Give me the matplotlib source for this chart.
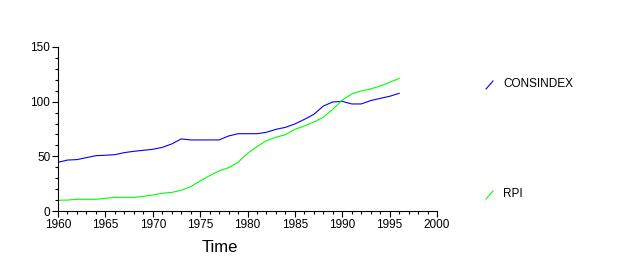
import matplotlib
matplotlib.use("Agg")
import matplotlib.pyplot as plt
from matplotlib.lines import Line2D
from matplotlib.ticker import MultipleLocator

years = list(range(1960, 1997))
consindex = [44.5, 46.6, 47.0, 48.8, 50.6, 51.0, 51.5, 53.4, 54.6, 55.5,
             56.4, 58.2, 61.3, 65.9, 65.0, 65.0, 65.0, 65.0, 68.6, 70.7,
             70.7, 70.7, 72.0, 74.7, 76.5, 79.6, 83.8, 88.4, 96.0, 99.7,
             100.3, 97.9, 97.9, 101.0, 103.0, 104.9, 107.6]
rpi = [9.8, 10.0, 10.7, 10.7, 10.7, 11.6, 12.5, 12.5, 12.5, 13.4,
       14.6, 16.2, 17.0, 18.9, 22.3, 27.4, 32.3, 36.6, 39.6, 44.5,
       52.7, 58.8, 64.3, 67.4, 69.8, 74.7, 77.7, 81.4, 85.7, 93.0,
       101.5, 107.0, 109.8, 111.6, 114.3, 117.7, 121.3]
series_names = ["CONSINDEX", "RPI"]
series_colors = ["#0000ff", "#00ff00"]

plt.rcParams['font.family'] = ['Liberation Sans', 'DejaVu Sans']

W, H = 638, 264
fig = plt.figure(figsize=(W / 100, H / 100), dpi=100)
ax = fig.add_axes([58 / W, 1 - 211 / H, (437 - 58) / W, (211 - 47) / H])

ax.plot(years, consindex, color=series_colors[0], lw=0.8)
ax.plot(years, rpi, color=series_colors[1], lw=0.8)

ax.set_xlim(1960, 2000)
ax.set_ylim(0, 150)
ax.xaxis.set_major_locator(MultipleLocator(5))
ax.xaxis.set_minor_locator(MultipleLocator(1))
ax.yaxis.set_major_locator(MultipleLocator(50))
ax.yaxis.set_minor_locator(MultipleLocator(10))
ax.tick_params(which='major', length=4, width=0.8, labelsize=8.5, pad=1.5, color='black')
ax.tick_params(which='minor', length=2.5, width=0.8, color='black')
for s in ['top', 'right']:
    ax.spines[s].set_visible(False)
for s in ['left', 'bottom']:
    ax.spines[s].set_linewidth(0.8)

# axis title sits left of the axes centre in the original
fig.text(220 / W, 1 - 247 / H, "Time", fontsize=12, ha='center', va='center')

# legend: slash marks plus labels on the right
legend_y = [84, 194]
for name, col, ly in zip(series_names, series_colors, legend_y):
    fig.add_artist(Line2D([486 / W, 493 / W], [1 - (ly + 5) / H, 1 - (ly - 3) / H],
                          color=col, lw=0.8, transform=fig.transFigure))
    fig.text(503 / W, 1 - ly / H, name, fontsize=8.5, va='center', ha='left')

fig.savefig("out.png", dpi=100)
